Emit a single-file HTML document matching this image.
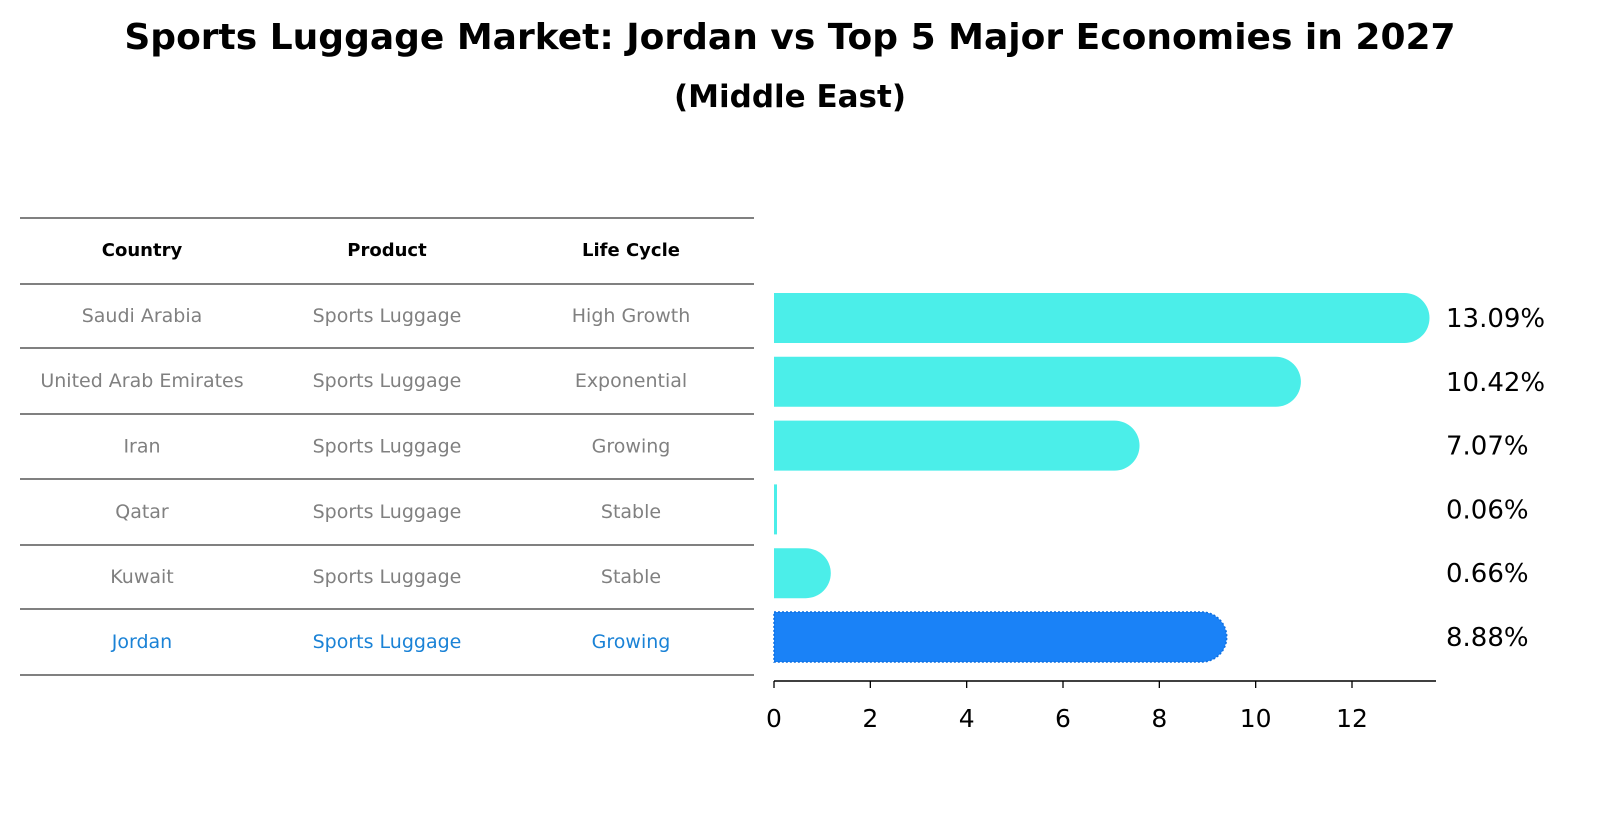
<!DOCTYPE html>
<html><head><meta charset="utf-8"><style>
html,body{margin:0;padding:0;background:#fff;overflow:hidden;width:1604px;height:823px}
svg{display:block}
</style></head><body>
<svg width="1604" height="823" viewBox="0 0 1604 823" xmlns="http://www.w3.org/2000/svg" font-family="DejaVu Sans, Liberation Sans, sans-serif">
<text x="790" y="49" text-anchor="middle" font-size="36" font-weight="bold">Sports Luggage Market: Jordan vs Top 5 Major Economies in 2027</text>
<text x="790" y="107" text-anchor="middle" font-size="31" font-weight="bold">(Middle East)</text>
<g id="table"></g>
<g id="bars"></g>
<g id="axis"></g>
</svg>
<script>
const countries=["Saudi Arabia","United Arab Emirates","Iran","Qatar","Kuwait","Jordan"];
const products=["Sports Luggage","Sports Luggage","Sports Luggage","Sports Luggage","Sports Luggage","Sports Luggage"];
const lifecycles=["High Growth","Exponential","Growing","Stable","Stable","Growing"];
const values=[13.09,10.42,7.07,0.06,0.66,8.88];
const ticks=[0,2,4,6,8,10,12];
const NS="http://www.w3.org/2000/svg";
function mk(t,a,p){const e=document.createElementNS(NS,t);for(const k in a)e.setAttribute(k,a[k]);p.appendChild(e);return e;}
const x0=774,sc=578/12,r0=318,rs=63.8,bh=50;
const xs=v=>x0+v*sc;
const tb=document.getElementById('table');
const lines=[218,284,348,414,479,545,609,675];
lines.forEach((y,i)=>{const l=mk('line',{x1:20,x2:754,y1:y,y2:y,stroke:'#000','stroke-width':1},tb);

});
const cx=[142,387,631];
["Country","Product","Life Cycle"].forEach((h,i)=>{const t=mk('text',{x:cx[i],y:256,'text-anchor':'middle','font-size':18,'font-weight':'bold'},tb);t.textContent=h;

});
countries.forEach((c,i)=>{const y=(lines[i+1]+lines[i+2])/2+6;const col=i==5?'#1a82d6':'#808080';
[c,products[i],lifecycles[i]].forEach((s,j)=>{const t=mk('text',{x:cx[j],y:y,'text-anchor':'middle','font-size':19,fill:col},tb);t.textContent=s;

});});
const bg=document.getElementById('bars');
values.forEach((v,i)=>{const cy=r0+i*rs;const w=xs(v)-x0;const col=i==5?'#1a82f7':'#4beee9';
const r=bh/2;let d;
if(v>0.3){d=`M${x0},${cy-r} H${x0+w} A${r},${r} 0 0 1 ${x0+w},${cy+r} H${x0} Z`;}else{d=`M${x0},${cy-r} H${x0+Math.max(w,3)} V${cy+r} H${x0} Z`;}
const p=mk('path',{d:d,fill:col},bg);
if(i==5){p.setAttribute('stroke','#0f6fe0');p.setAttribute('stroke-dasharray','2 2');p.setAttribute('stroke-width','1.5');}


const t=mk('text',{x:1446,y:cy+9,'font-size':26},bg);t.textContent=v.toFixed(2)+'%';

});
const ax=document.getElementById('axis');
mk('line',{x1:x0,x2:1436,y1:681,y2:681,stroke:'#000','stroke-width':1.5},ax);
ticks.forEach(v=>{const x=xs(v);mk('line',{x1:x,x2:x,y1:681,y2:688,stroke:'#000','stroke-width':1.3},ax);
const t=mk('text',{x:x,y:727,'text-anchor':'middle','font-size':25},ax);t.textContent=v;

});
</script>
</body></html>
